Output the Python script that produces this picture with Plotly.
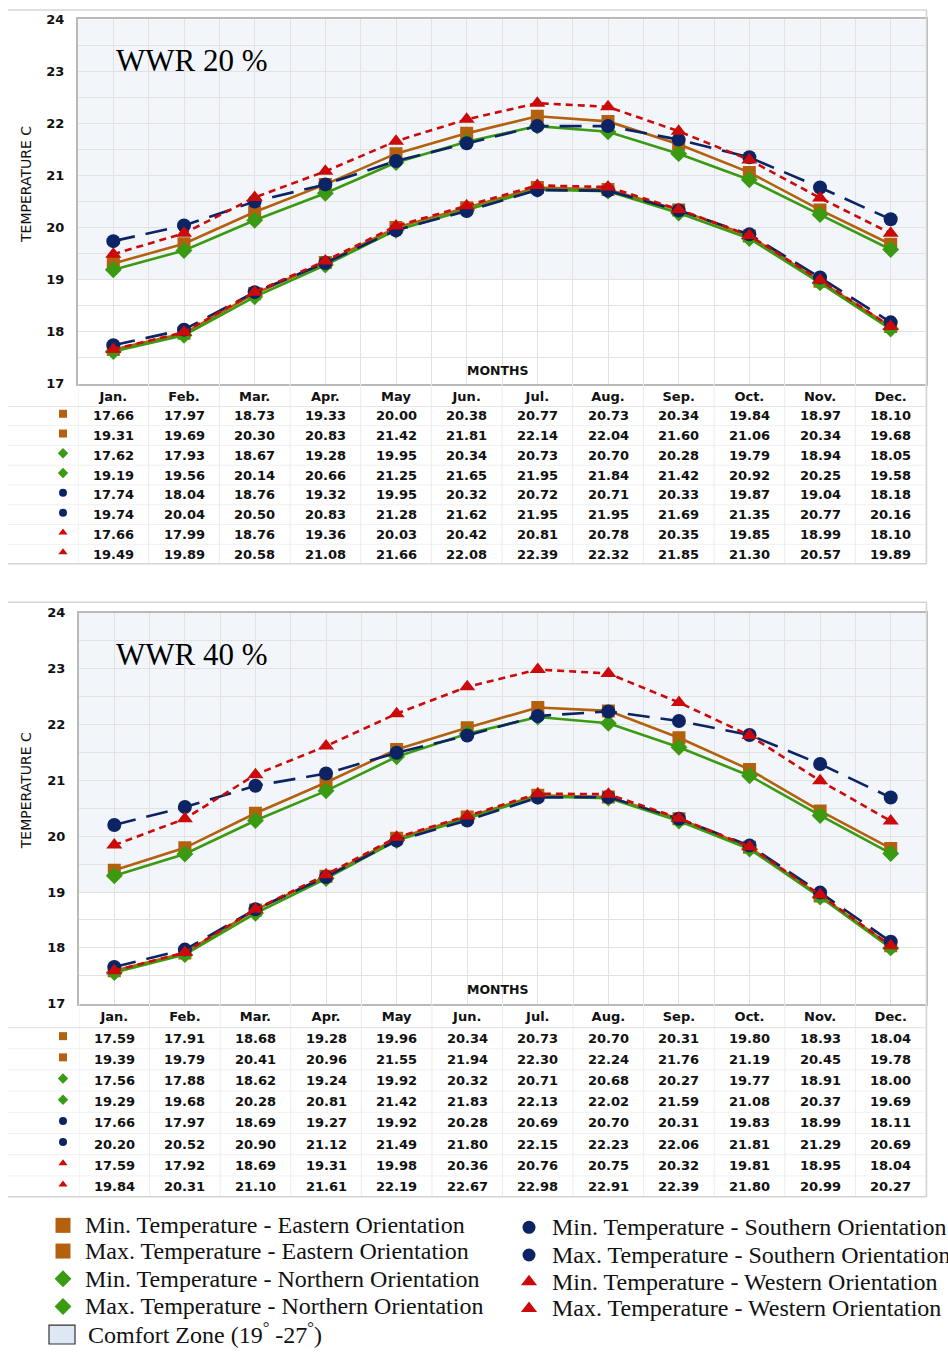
import plotly.graph_objects as go

# ---------------------------------------------------------------- data
months = ["Jan.", "Feb.", "Mar.", "Apr.", "May", "Jun.",
          "Jul.", "Aug.", "Sep.", "Oct.", "Nov.", "Dec."]

# WWR 20 %
wwr20_east_min = [17.66, 17.97, 18.73, 19.33, 20.00, 20.38, 20.77, 20.73, 20.34, 19.84, 18.97, 18.10]
wwr20_east_max = [19.31, 19.69, 20.30, 20.83, 21.42, 21.81, 22.14, 22.04, 21.60, 21.06, 20.34, 19.68]
wwr20_north_min = [17.62, 17.93, 18.67, 19.28, 19.95, 20.34, 20.73, 20.70, 20.28, 19.79, 18.94, 18.05]
wwr20_north_max = [19.19, 19.56, 20.14, 20.66, 21.25, 21.65, 21.95, 21.84, 21.42, 20.92, 20.25, 19.58]
wwr20_south_min = [17.74, 18.04, 18.76, 19.32, 19.95, 20.32, 20.72, 20.71, 20.33, 19.87, 19.04, 18.18]
wwr20_south_max = [19.74, 20.04, 20.50, 20.83, 21.28, 21.62, 21.95, 21.95, 21.69, 21.35, 20.77, 20.16]
wwr20_west_min = [17.66, 17.99, 18.76, 19.36, 20.03, 20.42, 20.81, 20.78, 20.35, 19.85, 18.99, 18.10]
wwr20_west_max = [19.49, 19.89, 20.58, 21.08, 21.66, 22.08, 22.39, 22.32, 21.85, 21.30, 20.57, 19.89]

# WWR 40 %
wwr40_east_min = [17.59, 17.91, 18.68, 19.28, 19.96, 20.34, 20.73, 20.70, 20.31, 19.80, 18.93, 18.04]
wwr40_east_max = [19.39, 19.79, 20.41, 20.96, 21.55, 21.94, 22.30, 22.24, 21.76, 21.19, 20.45, 19.78]
wwr40_north_min = [17.56, 17.88, 18.62, 19.24, 19.92, 20.32, 20.71, 20.68, 20.27, 19.77, 18.91, 18.00]
wwr40_north_max = [19.29, 19.68, 20.28, 20.81, 21.42, 21.83, 22.13, 22.02, 21.59, 21.08, 20.37, 19.69]
wwr40_south_min = [17.66, 17.97, 18.69, 19.27, 19.92, 20.28, 20.69, 20.70, 20.31, 19.83, 18.99, 18.11]
wwr40_south_max = [20.20, 20.52, 20.90, 21.12, 21.49, 21.80, 22.15, 22.23, 22.06, 21.81, 21.29, 20.69]
wwr40_west_min = [17.59, 17.92, 18.69, 19.31, 19.98, 20.36, 20.76, 20.75, 20.32, 19.81, 18.95, 18.04]
wwr40_west_max = [19.84, 20.31, 21.10, 21.61, 22.19, 22.67, 22.98, 22.91, 22.39, 21.80, 20.99, 20.27]

comfort_zone = [19, 27]
y_range = [17, 24]
panel_titles = ["WWR 20 %", "WWR 40 %"]

series_names = [
    "Min. Temperature - Eastern Orientation",
    "Max. Temperature - Eastern Orientation",
    "Min. Temperature - Northern Orientation",
    "Max. Temperature - Northern Orientation",
    "Min. Temperature - Southern Orientation",
    "Max. Temperature - Southern Orientation",
    "Min. Temperature - Western Orientation",
    "Max. Temperature - Western Orientation",
]
comfort_label = "Comfort Zone (19<sup>°</sup> -27<sup>°</sup>)"

panel_series = [
    [wwr20_east_min, wwr20_east_max, wwr20_north_min, wwr20_north_max,
     wwr20_south_min, wwr20_south_max, wwr20_west_min, wwr20_west_max],
    [wwr40_east_min, wwr40_east_max, wwr40_north_min, wwr40_north_max,
     wwr40_south_min, wwr40_south_max, wwr40_west_min, wwr40_west_max],
]

# ---------------------------------------------------------------- styles
W, H = 948, 1353
BROWN, GREEN, NAVY, RED = "#b3600f", "#3a9a12", "#0c2463", "#cc0a0a"
styles = [
    dict(color=BROWN, dash="solid", symbol="square", size=13),
    dict(color=BROWN, dash="solid", symbol="square", size=13),
    dict(color=GREEN, dash="solid", symbol="diamond", size=13),
    dict(color=GREEN, dash="solid", symbol="diamond", size=13),
    dict(color=NAVY, dash="22px,11px", symbol="circle", size=14),
    dict(color=NAVY, dash="22px,11px", symbol="circle", size=14),
    dict(color=RED, dash="7px,5px", symbol="triangle-up", size=14),
    dict(color=RED, dash="7px,5px", symbol="triangle-up", size=14),
]
BOLD = dict(family="DejaVu Sans", size=13, color="#111111", weight="bold")
SERIF = "Liberation Serif"
GRID = "#e2e2e2"
FRAME = "#d4d4d4"

# pixel layout of each panel: plot box (left, top, right, bottom),
# table first row / row step, frame top, header rule, table bottom
panels = [
    dict(box=(78, 12.5, 926, 381), row0=413.3, step=20.0, frame_top=3,
         head_sep=404, bottom=563, title_y=54, ytitle_y=180, months_y=368),
    dict(box=(79, 612.3, 926, 1008), row0=1042.7, step=21.43, frame_top=602,
         head_sep=1032, bottom=1203, title_y=655, ytitle_y=793, months_y=994),
]

fig = go.Figure()
shapes = []
annotations = []
x_idx = list(range(len(months)))

for p, panel in enumerate(panels):
    xa = "x" if p == 0 else "x2"
    ya = "y" if p == 0 else "y2"
    left, top, right, bottom = panel["box"]

    # comfort band (clipped to the visible temperature range)
    shapes.append(dict(type="rect", xref=f"{xa} domain", yref=ya, x0=0, x1=1,
                       y0=comfort_zone[0], y1=min(comfort_zone[1], y_range[1]),
                       fillcolor="#f2f6fa", line=dict(width=0), layer="below"))

    for k, (vals, st) in enumerate(zip(panel_series[p], styles)):
        fig.add_trace(go.Scatter(
            x=x_idx, y=vals, xaxis=xa, yaxis=ya, mode="lines+markers",
            name=series_names[k], showlegend=False,
            line=dict(color=st["color"], width=2.6, dash=st["dash"]),
            marker=dict(symbol=st["symbol"], size=st["size"], color=st["color"],
                        opacity=1, line=dict(width=0)),
        ))

    # data table below the plot
    for r, vals in enumerate(panel_series[p]):
        ry = panel["row0"] + r * panel["step"]
        for i, v in enumerate(vals):
            annotations.append(dict(xref=xa, yref="y3", x=i, y=ry, text=f"{v:.2f}",
                                    showarrow=False, font=BOLD,
                                    xanchor="center", yanchor="middle"))
        if r < len(panel_series[p]) - 1:
            shapes.append(dict(type="line", xref="x3", yref="y3", x0=8, x1=right,
                               y0=ry + panel["step"] / 2, y1=ry + panel["step"] / 2,
                               line=dict(color="#f0f0f0", width=1)))
    # table symbols
    fig.add_trace(go.Scatter(
        x=[63] * len(styles),
        y=[panel["row0"] + r * panel["step"] - 2 for r in range(len(styles))],
        xaxis="x3", yaxis="y3", mode="markers", showlegend=False, hoverinfo="skip",
        marker=dict(symbol=[s["symbol"] for s in styles], opacity=1,
                    color=[s["color"] for s in styles], size=8, line=dict(width=0)),
    ))
    # column separators of the table
    for i in range(len(months) + 1):
        shapes.append(dict(type="line", xref=xa, yref="y3", x0=i - 0.5, x1=i - 0.5,
                           y0=bottom, y1=panel["bottom"],
                           line=dict(color="#ececec", width=1)))
    # frame lines
    shapes += [
        dict(type="line", xref="x3", yref="y3", x0=8, x1=right + 1,
             y0=panel["frame_top"], y1=panel["frame_top"], line=dict(color=FRAME, width=1.5)),
        dict(type="line", xref="x3", yref="y3", x0=8, x1=right,
             y0=panel["head_sep"], y1=panel["head_sep"], line=dict(color="#e6e6e6", width=1.2)),
        dict(type="line", xref="x3", yref="y3", x0=8, x1=right + 1,
             y0=panel["bottom"], y1=panel["bottom"], line=dict(color=FRAME, width=1.5)),
        dict(type="line", xref="x3", yref="y3", x0=right + 0.5, x1=right + 0.5,
             y0=panel["frame_top"], y1=panel["bottom"], line=dict(color=FRAME, width=1.5)),
    ]

    # texts
    annotations += [
        dict(xref="x3", yref="y3", x=114, y=panel["title_y"], text=panel_titles[p],
             showarrow=False, xanchor="left", yanchor="middle",
             font=dict(family=SERIF, size=31, color="#000000")),
        dict(xref="x3", yref="y3", x=26, y=panel["ytitle_y"], text="TEMPERATURE C",
             showarrow=False, textangle=-90, xanchor="center", yanchor="middle",
             font=dict(family="DejaVu Sans", size=14, color="#111111")),
        dict(xref="x3", yref="y3", x=498, y=panel["months_y"], text="MONTHS",
             showarrow=False, xanchor="center", yanchor="middle",
             font=dict(family="DejaVu Sans", size=12.5, color="#111111", weight="bold")),
    ]

# ---------------------------------------------------------------- legend
legend_left = [(63, 83, 1232), (63, 83, 1258), (63, 83, 1286), (63, 83, 1314)]
legend_right = [(529, 550, 1234), (529, 550, 1262), (529, 550, 1289), (529, 550, 1316)]
legend_pos = legend_left + legend_right
legend_sizes = [15, 15, 13, 13, 13, 13, 14, 14]
fig.add_trace(go.Scatter(
    x=[p[0] for p in legend_pos], y=[p[2] for p in legend_pos],
    xaxis="x3", yaxis="y3", mode="markers", showlegend=False, hoverinfo="skip",
    marker=dict(symbol=[s["symbol"] for s in styles], color=[s["color"] for s in styles],
                size=legend_sizes, opacity=1, line=dict(width=0)),
))
for (mx, tx, ty), name in zip(legend_pos, series_names):
    annotations.append(dict(xref="x3", yref="y3", x=tx, y=ty, text=name, showarrow=False,
                            xanchor="left", yanchor="middle",
                            font=dict(family=SERIF, size=24, color="#111111")))
shapes.append(dict(type="rect", xref="x3", yref="y3", x0=49, x1=75, y0=1333, y1=1352,
                   fillcolor="#dde8f4", line=dict(color="#333333", width=1.2)))
annotations.append(dict(xref="x3", yref="y3", x=86, y=1341, text=comfort_label,
                        showarrow=False, xanchor="left", yanchor="middle",
                        font=dict(family=SERIF, size=24, color="#111111")))

# ---------------------------------------------------------------- axes
def x_axis(p, anchor):
    left, top, right, bottom = panels[p]["box"]
    return dict(domain=[left / W, right / W], range=[-0.5, len(months) - 0.5],
                anchor=anchor, tickmode="array", tickvals=x_idx, ticktext=months,
                tickfont=BOLD, ticks="", showgrid=True, gridcolor=GRID, gridwidth=1.2,
                minor=dict(tickmode="linear", tick0=0.5, dtick=1, showgrid=True,
                           gridcolor=GRID, gridwidth=1.2),
                showline=True, mirror=True, linecolor="#b9b9b9", linewidth=2,
                zeroline=False, fixedrange=True)


def y_axis(p, anchor):
    left, top, right, bottom = panels[p]["box"]
    return dict(domain=[1 - bottom / H, 1 - top / H], range=y_range, anchor=anchor,
                dtick=1, tickfont=BOLD, ticks="", ticklabelstandoff=9,
                showgrid=True, gridcolor=GRID, gridwidth=1.2,
                minor=dict(dtick=0.5, showgrid=True, gridcolor=GRID, gridwidth=1.2),
                showline=True, mirror=True, linecolor="#b9b9b9", linewidth=2,
                zeroline=False, fixedrange=True)


fig.update_layout(
    width=W, height=H, margin=dict(l=0, r=0, t=0, b=0),
    paper_bgcolor="white", plot_bgcolor="rgba(0,0,0,0)", showlegend=False,
    xaxis=x_axis(0, "y"), yaxis=y_axis(0, "x"),
    xaxis2=x_axis(1, "y2"), yaxis2=y_axis(1, "x2"),
    xaxis3=dict(domain=[0, 1], range=[0, W], anchor="y3", visible=False, fixedrange=True),
    yaxis3=dict(domain=[0, 1], range=[H, 0], anchor="x3", visible=False, fixedrange=True),
    shapes=shapes, annotations=annotations,
)

fig.write_html("out.html")
